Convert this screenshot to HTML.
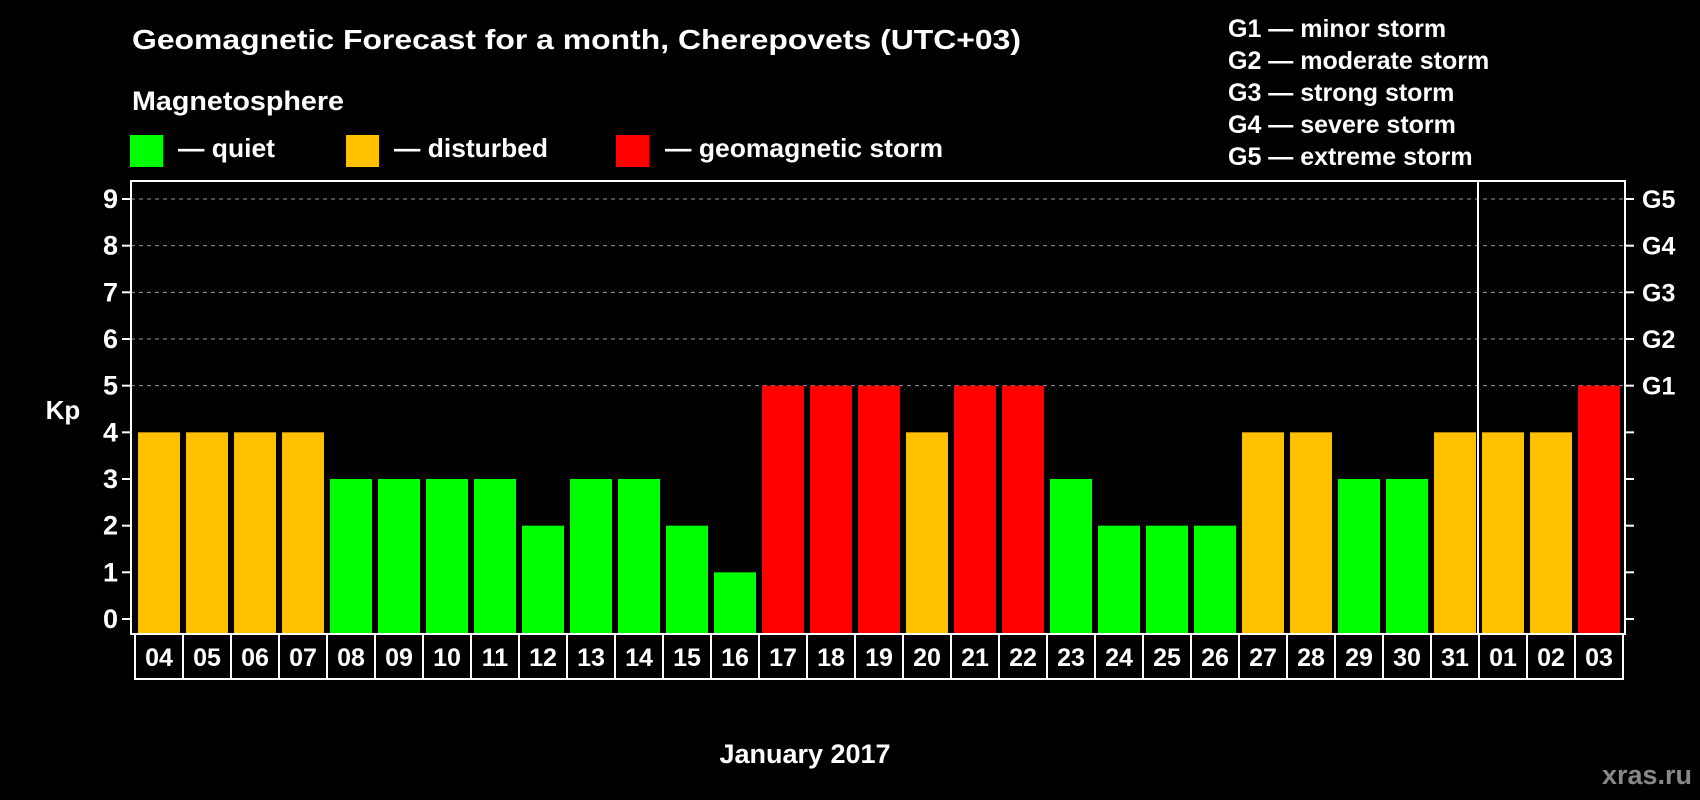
<!DOCTYPE html>
<html><head><meta charset="utf-8"><style>
html,body{margin:0;padding:0;background:#000;width:1700px;height:800px;overflow:hidden}
svg{display:block;font-family:"Liberation Sans",sans-serif;font-weight:bold}
</style></head><body>
<svg id="chart" width="1700" height="800">
<text x="132" y="49" font-size="28" fill="#fff" textLength="889" lengthAdjust="spacingAndGlyphs">Geomagnetic Forecast for a month, Cherepovets (UTC+03)</text>
<text x="132" y="110" font-size="27" fill="#fff" textLength="212" lengthAdjust="spacingAndGlyphs">Magnetosphere</text>
<g><rect x="130" y="135" width="33" height="32" fill="#00ff00"/><text x="178" y="157" font-size="26" fill="#fff" textLength="97" lengthAdjust="spacingAndGlyphs">— quiet</text></g>
<g><rect x="346" y="135" width="33" height="32" fill="#ffc000"/><text x="394" y="157" font-size="26" fill="#fff" textLength="154" lengthAdjust="spacingAndGlyphs">— disturbed</text></g>
<g><rect x="616" y="135" width="33" height="32" fill="#ff0000"/><text x="665" y="157" font-size="26" fill="#fff" textLength="278" lengthAdjust="spacingAndGlyphs">— geomagnetic storm</text></g>
<g font-size="25" fill="#fff">
<text x="1228" y="37">G1 — minor storm</text>
<text x="1228" y="69">G2 — moderate storm</text>
<text x="1228" y="101">G3 — strong storm</text>
<text x="1228" y="133">G4 — severe storm</text>
<text x="1228" y="165">G5 — extreme storm</text>
</g>
<text x="63" y="419" font-size="26" fill="#fff" text-anchor="middle">Kp</text>
<text x="805" y="763" font-size="27" fill="#fff" text-anchor="middle">January 2017</text>
<text x="1692" y="784" font-size="27" fill="#888" text-anchor="end">xras.ru</text>
<g id="grid"></g><g id="bars"></g><g id="axes"></g><g id="xlabels"></g>
</svg>
<script>
const days=["04","05","06","07","08","09","10","11","12","13","14","15","16","17","18","19","20","21","22","23","24","25","26","27","28","29","30","31","01","02","03"];
const kp=[4,4,4,4,3,3,3,3,2,3,3,2,1,5,5,5,4,5,5,3,2,2,2,4,4,3,3,4,4,4,5];
const yTicks=[0,1,2,3,4,5,6,7,8,9];
const gLabels=["G1","G2","G3","G4","G5"];
const gLevels=[5,6,7,8,9];
const monthBreakIndex=28;
const NS="http://www.w3.org/2000/svg";
const L=131,R=1625,T=181,B=634,X0=135,SLOT=48;
function yS(v){return 619-v*(420/9);}
function xS(i){return X0+i*SLOT;}
function mk(tag,attrs,parent){const e=document.createElementNS(NS,tag);for(const k in attrs)e.setAttribute(k,attrs[k]);parent.appendChild(e);return e;}
const grid=document.getElementById('grid'),bars=document.getElementById('bars'),axes=document.getElementById('axes'),xl=document.getElementById('xlabels');
gLevels.forEach((v,i)=>{
 const ln=mk('line',{x1:L,x2:R,y1:yS(v),y2:yS(v),stroke:'#999','stroke-width':1,'stroke-dasharray':'4,4'},grid);
 
 
 const t=mk('text',{x:1642,y:yS(v)+9,'font-size':25,fill:'#fff'},axes);t.textContent=gLabels[i];
 
 
});
function col(v){return v>=5?'#ff0000':(v>=4?'#ffc000':'#00ff00');}
kp.forEach((v,i)=>{
 const r=mk('rect',{x:xS(i)+3,y:yS(v),width:42,height:B-yS(v),fill:col(v)},bars);
 
 
});
const box=mk('rect',{x:L,y:T,width:R-L,height:B-T,fill:'none',stroke:'#fff','stroke-width':2},axes);


const sep=mk('line',{x1:xS(monthBreakIndex)-1,x2:xS(monthBreakIndex)-1,y1:T,y2:B,stroke:'#fff','stroke-width':2},axes);


yTicks.forEach(v=>{
 mk('line',{x1:122,x2:L,y1:yS(v),y2:yS(v),stroke:'#fff','stroke-width':2},axes);
 mk('line',{x1:R,x2:1634,y1:yS(v),y2:yS(v),stroke:'#fff','stroke-width':2},axes);
 const t=mk('text',{x:118,y:yS(v)+9,'font-size':27,fill:'#fff','text-anchor':'end'},axes);t.textContent=v;
 
 
});
const xb=mk('rect',{x:X0,y:B,width:SLOT*days.length,height:45,fill:'none',stroke:'#fff','stroke-width':2},xl);


days.forEach((d,i)=>{
 if(i>0)mk('line',{x1:xS(i),x2:xS(i),y1:B,y2:B+45,stroke:'#fff','stroke-width':2},xl);
 const t=mk('text',{x:xS(i)+SLOT/2,y:B+32,'font-size':25,fill:'#fff','text-anchor':'middle'},xl);t.textContent=d;
 
 
});
</script>
</body></html>
